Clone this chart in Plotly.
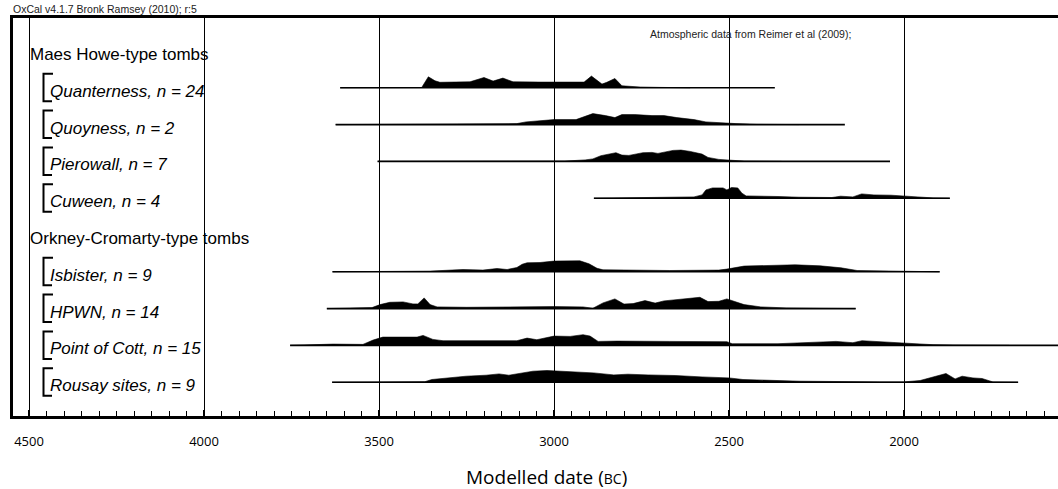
import plotly.graph_objects as go

# ---------------- data ----------------
group_labels = ["Maes Howe-type tombs", "Orkney-Cromarty-type tombs"]
site_names = ["Quanterness", "Quoyness", "Pierowall", "Cuween",
              "Isbister", "HPWN", "Point of Cott", "Rousay sites"]
site_n = [24, 2, 7, 4, 9, 14, 15, 9]
site_group = [0, 0, 0, 0, 1, 1, 1, 1]
# extent of each plotted distribution (years BC)
range_start = [3611, 3624, 3504, 2886, 3633, 3649, 3754, 3634]
range_end = [2369, 2169, 2040, 1869, 1898, 2138, 1500, 1674]

# relative probability (arbitrary units) against modelled date (BC)
quanterness_years = [3611, 3378, 3359, 3340, 3326, 3240, 3200, 3174, 3146, 3117, 3040, 2914, 2893, 2863, 2849, 2826, 2806, 2754, 2697, 2611]
quanterness_prob = [0, 0.3, 11, 7, 5.5, 6, 10.3, 6.7, 9.7, 6, 5.7, 5.7, 11.7, 3.7, 5.5, 9.3, 2, 0.8, 0.4, 0.1]

quoyness_years = [3624, 3335, 3211, 3106, 3080, 3020, 3000, 2937, 2911, 2889, 2853, 2826, 2806, 2769, 2720, 2686, 2649, 2600, 2566, 2506, 2480, 2420, 2300]
quoyness_prob = [0, 0.3, 0.6, 1, 2.7, 4.3, 5, 5, 8, 11, 9, 7, 10, 10, 9, 9, 7, 5, 2.7, 1.3, 1, 0.3, 0]

pierowall_years = [3504, 2969, 2911, 2889, 2866, 2823, 2806, 2786, 2746, 2720, 2703, 2660, 2637, 2611, 2577, 2560, 2529, 2500, 2457, 2350]
pierowall_prob = [0, 0.3, 1.5, 2.5, 5.7, 8.7, 6.3, 6, 8.7, 9, 8, 11, 11.3, 10, 7.3, 4, 2, 1.3, 0.3, 0]

cuween_years = [2886, 2829, 2626, 2600, 2577, 2566, 2547, 2517, 2506, 2493, 2475, 2463, 2451, 2409, 2360, 2300, 2206, 2181, 2146, 2121, 2086, 2037, 2001, 1954, 1917, 1869]
cuween_prob = [0, 0.3, 0.7, 1.3, 3.3, 8.3, 10.3, 10.3, 8.3, 10.7, 10.3, 5, 2.3, 1.7, 1.7, 1, 0.7, 2, 1.3, 4.3, 3.3, 3, 2, 0.7, 0.3, 0]

isbister_years = [3633, 3354, 3260, 3203, 3163, 3134, 3106, 3091, 3077, 3040, 3000, 2926, 2900, 2877, 2860, 2783, 2669, 2529, 2506, 2457, 2360, 2311, 2240, 2180, 2134, 2060, 2000, 1898]
isbister_prob = [0, 0.7, 2.3, 1.7, 3.3, 2.3, 4.3, 7.5, 9, 9.3, 10.7, 11, 8, 3.5, 2, 1.7, 1.3, 1.7, 2.7, 5.7, 7, 7, 6, 4, 1.3, 0.7, 0.3, 0]

hpwn_years = [3649, 3520, 3497, 3469, 3431, 3403, 3389, 3371, 3354, 3334, 3249, 3089, 3000, 2917, 2889, 2860, 2826, 2800, 2774, 2740, 2711, 2686, 2626, 2583, 2560, 2529, 2506, 2493, 2457, 2409, 2337, 2240, 2138]
hpwn_prob = [0, 1, 4, 6.3, 6.7, 4.7, 4.7, 10.7, 4, 1.7, 1.3, 2, 2, 1.7, 0.3, 5.7, 9.7, 4.5, 5, 8, 5.5, 7.7, 9.7, 11.3, 7, 7.3, 9.7, 8, 4, 1.7, 0.7, 0.3, 0]

cott_years = [3754, 3631, 3546, 3517, 3489, 3431, 3391, 3374, 3346, 3317, 3203, 3106, 3077, 3049, 3000, 2954, 2917, 2897, 2874, 2820, 2669, 2583, 2506, 2491, 2360, 2194, 2146, 2120, 2074, 2000, 1917, 1857, 1700]
cott_prob = [0, 1.3, 1, 5.3, 8.3, 8.7, 8.3, 10, 6, 4.7, 4.3, 4.7, 7.3, 5.7, 9.3, 9, 10.7, 9.3, 4, 4.3, 4, 3.7, 3.7, 1.7, 1.7, 4, 2.7, 4.7, 3.7, 2, 0.7, 0.3, 0]

rousay_years = [3634, 3369, 3349, 3251, 3194, 3157, 3129, 3060, 3020, 2926, 2886, 2829, 2789, 2731, 2654, 2577, 2500, 2460, 2297, 2069, 2000, 1954, 1917, 1880, 1854, 1834, 1803, 1777, 1746, 1674]
rousay_prob = [0, 0.5, 2.7, 6, 7, 8.3, 7, 11, 11.7, 10.3, 9.3, 7.3, 8, 7.3, 6.7, 5.3, 4.3, 2.7, 1, 0.3, 0.3, 1.7, 5, 8.7, 3.3, 6, 4.3, 3.7, 0.3, 0]

site_years = [quanterness_years, quoyness_years, pierowall_years, cuween_years,
              isbister_years, hpwn_years, cott_years, rousay_years]
site_prob = [quanterness_prob, quoyness_prob, pierowall_prob, cuween_prob,
             isbister_prob, hpwn_prob, cott_prob, rousay_prob]

tick_values = [4500, 4000, 3500, 3000, 2500, 2000]
x_range = [4548.6, 1560]

# ---------------- layout constants ----------------
W, H = 1058, 489
ML, MR, MT, MB = 13, 0, 18, 73
PW, PH = W - ML - MR, H - MT - MB
ROW_PX = 36.8
FIRST_ROW_PX = 51.0  # pixel centre of the first row
y_top = -(FIRST_ROW_PX - MT) / ROW_PX
y_bot = y_top + PH / ROW_PX
PROB_SCALE = 1.0 / ROW_PX  # prob unit -> row units
XPAD = 4500 + (29 - ML) / 0.35  # keep 4500 at pixel 29

def px_x(px):
    return (px - ML) / PW

def px_y(py):
    return (MT + PH - py) / PH

x_range = [XPAD, XPAD - PW / 0.35]

# assign rows
header_rows = []
site_rows = [None] * len(site_names)
r = 0
for g, lab in enumerate(group_labels):
    header_rows.append(r)
    r += 1
    for i, sg in enumerate(site_group):
        if sg == g:
            site_rows[i] = r
            r += 1

fig = go.Figure()

for i in range(len(site_names)):
    row = site_rows[i]
    # baseline
    fig.add_trace(go.Scatter(x=[range_start[i], range_end[i]], y=[row, row],
                             mode="lines", line=dict(color="black", width=1.6),
                             hoverinfo="skip", showlegend=False))
    ys = site_years[i]
    ps = site_prob[i]
    px = [ys[0]] + list(ys) + [ys[-1]]
    py = [row] + [row - p * PROB_SCALE for p in ps] + [row]
    fig.add_trace(go.Scatter(x=px, y=py, mode="lines", fill="toself",
                             fillcolor="black", line=dict(color="black", width=0.6),
                             hoverinfo="skip", showlegend=False))

annotations = []
shapes = []
LABEL_FONT = "Liberation Sans"
for g, lab in enumerate(group_labels):
    annotations.append(dict(text=lab, xref="paper", yref="y", x=px_x(28), y=header_rows[g] + 3.5 / ROW_PX,
                            xanchor="left", yanchor="middle", showarrow=False,
                            font=dict(family=LABEL_FONT, size=17, color="black")))
for i, name in enumerate(site_names):
    row = site_rows[i]
    annotations.append(dict(text=f"<i>{name}, n = {site_n[i]}</i>", xref="paper", yref="y",
                            x=px_x(48), y=row + 3.5 / ROW_PX, xanchor="left", yanchor="middle",
                            showarrow=False, font=dict(family=LABEL_FONT, size=17, color="black")))
    x0, x1t, x1b = px_x(43.5), px_x(53), px_x(52)
    y0, y1 = row - 14 / ROW_PX, row + 13.5 / ROW_PX
    shapes.append(dict(type="path", xref="paper", yref="y",
                       path=f"M {x1t},{y0} L {x0},{y0} L {x0},{y1} L {x1b},{y1}",
                       line=dict(color="black", width=2)))

annotations.append(dict(text="OxCal v4.1.7 Bronk Ramsey (2010); r:5", xref="paper", yref="paper",
                        x=px_x(11), y=px_y(17), xanchor="left", yanchor="bottom", showarrow=False,
                        font=dict(family=LABEL_FONT, size=10.5, color="#222")))
annotations.append(dict(text="Atmospheric data from Reimer et al (2009);", xref="paper", yref="paper",
                        x=px_x(648), y=px_y(34), xanchor="left", yanchor="middle", showarrow=False,
                        font=dict(family=LABEL_FONT, size=10.5, color="#222")))
annotations.append(dict(text="Modelled date (<span style='font-size:14px'>BC</span>)", xref="paper", yref="paper",
                        x=px_x(546), y=px_y(477), xanchor="center", yanchor="middle", showarrow=False,
                        font=dict(family="Open Sans, sans-serif", size=19, color="black")))

fig.update_layout(
    width=W, height=H,
    margin=dict(l=ML, r=MR, t=MT, b=MB, pad=0),
    paper_bgcolor="white", plot_bgcolor="white",
    showlegend=False,
    annotations=annotations, shapes=shapes,
    xaxis=dict(range=x_range, tickmode="array", tickvals=tick_values,
               ticktext=[str(v) for v in tick_values],
               showgrid=True, gridcolor="black", gridwidth=1,
               zeroline=False, showline=True, linecolor="black", linewidth=2.5, mirror=True,
               ticks="inside", ticklen=6, tickwidth=1.5, tickcolor="black",
               ticklabelstandoff=12,
               tickfont=dict(family="Open Sans, sans-serif", size=13, color="black"),
               minor=dict(dtick=50, tick0=0, ticks="inside", ticklen=5, tickwidth=1,
                          tickcolor="black", showgrid=False)),
    yaxis=dict(range=[y_bot, y_top], showgrid=False, zeroline=False, showticklabels=False,
               ticks="", showline=True, linecolor="black", linewidth=2.5, mirror=False),
)

fig.write_html("out.html")
